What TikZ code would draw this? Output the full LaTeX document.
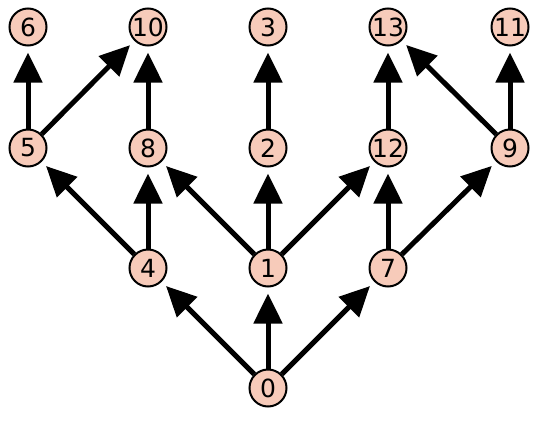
\documentclass[tikz,border=0pt]{standalone}
\usepackage{fontspec}
\setmainfont{DejaVu Sans}
\usetikzlibrary{arrows.meta}
\begin{document}
\begin{tikzpicture}[x=1pt,y=-1pt,
  vert/.style={circle,draw=black,line width=2pt,fill={rgb,255:red,247;green,203;blue,186},minimum size=37pt,inner sep=0pt,font=\fontsize{25}{25}\selectfont},
  edge/.style={line width=5pt,-{Triangle[length=30pt,width=28pt]},shorten >=6pt}]
\useasboundingbox (0,0) rectangle (540,420);
\node[vert] (n6) at (28,27) {6};
\node[vert] (n10) at (148,27) {10};
\node[vert] (n3) at (268,27) {3};
\node[vert] (n13) at (388,27) {13};
\node[vert] (n11) at (510,27) {11};
\node[vert] (n5) at (28,148) {5};
\node[vert] (n8) at (148,148) {8};
\node[vert] (n2) at (268,148) {2};
\node[vert] (n12) at (388,148) {12};
\node[vert] (n9) at (510,148) {9};
\node[vert] (n4) at (148,268) {4};
\node[vert] (n1) at (268,268) {1};
\node[vert] (n7) at (388,268) {7};
\node[vert] (n0) at (268,388) {0};
\foreach \a/\b in {0/4,0/1,0/7,4/5,4/8,1/8,1/2,1/12,7/12,7/9,5/6,5/10,8/10,2/3,12/13,9/13,9/11}
  \draw[edge] (n\a) -- (n\b);
\end{tikzpicture}
\end{document}
